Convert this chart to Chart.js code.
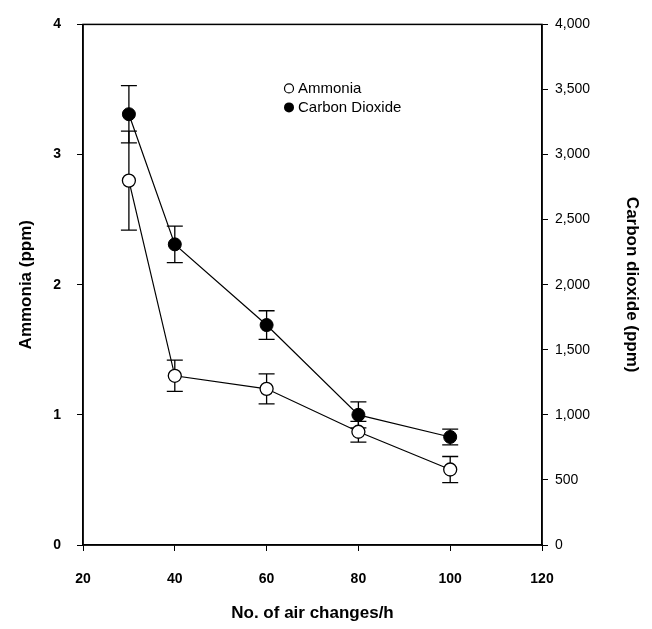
<!DOCTYPE html>
<html>
<head>
<meta charset="utf-8">
<script src="https://cdn.jsdelivr.net/npm/chart.js@4.4.0/dist/chart.umd.min.js"></script>
<style>
html,body{margin:0;padding:0;background:#fff;}
#wrap{width:652px;height:629px;}
</style>
</head>
<body>
<div id="wrap"><canvas id="c" width="652" height="629"></canvas></div>
<script>
const airChanges = [30, 40, 60, 80, 100];
const ammonia = [2.8, 1.3, 1.2, 0.87, 0.58];
const ammoniaErr = [0.38, 0.12, 0.115, 0.08, 0.1];
const co2 = [3310, 2310, 1690, 1000, 830];
const co2Err = [220, 140, 110, 100, 60];
const xTicks = [20, 40, 60, 80, 100, 120];
const leftTicks = [0, 1, 2, 3, 4];
const rightTicks = [0, 500, 1000, 1500, 2000, 2500, 3000, 3500, 4000];

const FONT = "'Liberation Sans', Arial, sans-serif";

const errorBars = {
  id: 'errorBars',
  beforeDatasetsDraw(chart) {
    const ctx = chart.ctx;
    const xs = chart.scales.x;
    ctx.save();
    ctx.strokeStyle = '#000';
    ctx.lineWidth = 1.3;
    const sets = [[ammonia, ammoniaErr, chart.scales.y], [co2, co2Err, chart.scales.y2]];
    sets.forEach(([vals, errs, ys]) => {
      vals.forEach((v, i) => {
        const px = xs.getPixelForValue(airChanges[i]);
        const top = ys.getPixelForValue(v + errs[i]);
        const bot = ys.getPixelForValue(v - errs[i]);
        ctx.beginPath();
        ctx.moveTo(px, top); ctx.lineTo(px, bot);
        ctx.moveTo(px - 8, top); ctx.lineTo(px + 8, top);
        ctx.moveTo(px - 8, bot); ctx.lineTo(px + 8, bot);
        ctx.stroke();
      });
    });
    ctx.restore();
  },
  afterDraw(chart) {
    const ctx = chart.ctx;
    const a = chart.chartArea;
    ctx.save();
    ctx.strokeStyle = '#000';
    ctx.lineWidth = 1.5;
    ctx.strokeRect(a.left, a.top, a.right - a.left, a.bottom - a.top);
    // legend
    const lx = a.left + 206, ly = a.top + 64;
    ctx.lineWidth = 1.2;
    ctx.beginPath(); ctx.arc(lx, ly, 4.5, 0, Math.PI * 2);
    ctx.fillStyle = '#fff'; ctx.fill(); ctx.stroke();
    ctx.beginPath(); ctx.arc(lx, ly + 19, 5, 0, Math.PI * 2);
    ctx.fillStyle = '#000'; ctx.fill();
    ctx.fillStyle = '#000';
    ctx.font = '15px ' + FONT;
    ctx.textBaseline = 'middle';
    ctx.fillText('Ammonia', lx + 9, ly);
    ctx.fillText('Carbon Dioxide', lx + 9, ly + 19);
    ctx.restore();
  }
};

new Chart(document.getElementById('c'), {
  type: 'line',
  data: {
    datasets: [
      {
        label: 'Ammonia',
        data: airChanges.map((x, i) => ({x, y: ammonia[i]})),
        yAxisID: 'y',
        borderColor: '#000', borderWidth: 1.2,
        pointRadius: 6.5, pointBackgroundColor: '#fff', pointBorderColor: '#000', pointBorderWidth: 1.3,
        tension: 0
      },
      {
        label: 'Carbon Dioxide',
        data: airChanges.map((x, i) => ({x, y: co2[i]})),
        yAxisID: 'y2',
        borderColor: '#000', borderWidth: 1.2,
        pointRadius: 6.5, pointBackgroundColor: '#000', pointBorderColor: '#000', pointBorderWidth: 1,
        tension: 0
      }
    ]
  },
  plugins: [errorBars],
  options: {
    responsive: false,
    animation: false,
    layout: { padding: { top: 23, left: 6, right: 6, bottom: 2 } },
    plugins: { legend: { display: false }, tooltip: { enabled: false } },
    scales: {
      x: {
        type: 'linear', min: 20, max: 120,
        afterBuildTicks(s) { s.ticks = xTicks.map(v => ({value: v})); },
        border: { display: true, color: '#000', width: 1.5 },
        grid: { drawOnChartArea: false, drawTicks: true, tickLength: 6, color: '#000' },
        ticks: { color: '#000', font: { family: FONT, size: 14, weight: 'bold' }, padding: 20 },
        title: { display: true, text: 'No. of air changes/h', color: '#000', font: { family: FONT, size: 17, weight: 'bold' }, padding: { top: 4, bottom: 3 } },
        afterFit(s) { s.height = 82; }
      },
      y: {
        type: 'linear', position: 'left', min: 0, max: 4,
        afterBuildTicks(s) { s.ticks = leftTicks.map(v => ({value: v})); },
        border: { display: true, color: '#000', width: 1.5 },
        grid: { drawOnChartArea: false, drawTicks: true, tickLength: 6, color: '#000' },
        ticks: { color: '#000', font: { family: FONT, size: 14, weight: 'bold' }, padding: 16 },
        title: { display: true, text: 'Ammonia (ppm)', color: '#000', font: { family: FONT, size: 17, weight: 'bold' }, padding: { top: 10, bottom: 0 } },
        afterFit(s) { s.width = 77; }
      },
      y2: {
        type: 'linear', position: 'right', min: 0, max: 4000,
        afterBuildTicks(s) { s.ticks = rightTicks.map(v => ({value: v})); },
        border: { display: true, color: '#000', width: 1.5 },
        grid: { drawOnChartArea: false, drawTicks: true, tickLength: 6, color: '#000' },
        ticks: { color: '#000', font: { family: FONT, size: 14 }, padding: 7,
          callback: v => v.toLocaleString('en-US') },
        title: { display: true, text: 'Carbon dioxide (ppm)', color: '#000', font: { family: FONT, size: 17, weight: 'bold' }, padding: { top: 4, bottom: 0 } },
        afterFit(s) { s.width = 104; }
      }
    }
  }
});
</script>
</body>
</html>
